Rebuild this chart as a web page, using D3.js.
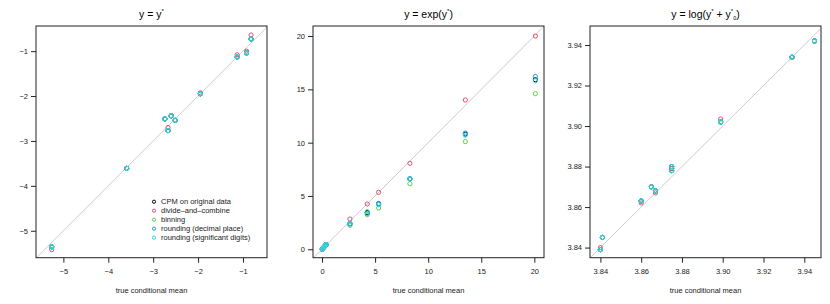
<!DOCTYPE html>
<html>
<head>
<meta charset="utf-8">
<script src="https://cdn.jsdelivr.net/npm/d3@7"></script>
<style>
  body { margin: 0; background: #fff; }
  svg { display: block; font-family: "Liberation Sans", Arial, sans-serif; }
</style>
</head>
<body>
<svg id="chart" width="830" height="304"></svg>
<script>
const METHODS = ["CPM on original data", "divide\u2013and\u2013combine", "binning", "rounding (decimal place)", "rounding (significant digits)"];
const METHOD_COLORS = ["#000000", "#DF536B", "#61D04F", "#2297E6", "#28E2E5"];

// panel 1 : y = y*
const p1True = [-5.26, -3.59, -2.74, -2.67, -2.60, -2.51, -1.95, -1.13, -0.92, -0.82];
const p1Cpm  = [-5.36, -3.61, -2.51, -2.77, -2.44, -2.54, -1.95, -1.13, -1.04, -0.73];
const p1Dac  = [-5.42, -3.61, -2.51, -2.70, -2.44, -2.54, -1.93, -1.08, -1.00, -0.64];
const p1Bin  = [-5.36, -3.61, -2.51, -2.77, -2.44, -2.54, -1.95, -1.13, -1.04, -0.73];
const p1Dec  = [-5.36, -3.61, -2.51, -2.77, -2.44, -2.54, -1.95, -1.13, -1.04, -0.73];
const p1Sig  = [-5.36, -3.61, -2.51, -2.77, -2.44, -2.54, -1.95, -1.13, -1.04, -0.73];

// panel 2 : y = exp(y*)
const p2True = [0.02, 0.14, 0.25, 0.37, 2.63, 4.26, 5.33, 8.28, 13.5, 20.1];
const p2Cpm  = [0.00, 0.16, 0.28, 0.45, 2.40, 3.45, 4.25, 6.60, 10.8, 15.9];
const p2Dac  = [0.03, 0.15, 0.27, 0.40, 2.84, 4.25, 5.34, 8.06, 14.0, 20.0];
const p2Bin  = [0.00, 0.14, 0.26, 0.38, 2.25, 3.25, 3.87, 6.15, 10.1, 14.6];
const p2Dec  = [0.00, 0.16, 0.30, 0.42, 2.37, 3.37, 4.30, 6.62, 10.9, 16.2];
const p2Sig  = [0.00, 0.17, 0.29, 0.46, 2.44, 3.53, 4.18, 6.60, 10.7, 15.8];

// panel 3 : y = log(y* + y0*)
const p3True = [3.840, 3.841, 3.860, 3.865, 3.867, 3.875, 3.875, 3.899, 3.934, 3.945];
const p3Cpm  = [3.839, 3.845, 3.863, 3.870, 3.868, 3.880, 3.878, 3.902, 3.934, 3.942];
const p3Dac  = [3.840, 3.845, 3.862, 3.870, 3.867, 3.879, 3.879, 3.9035, 3.934, 3.942];
const p3Bin  = [3.839, 3.845, 3.863, 3.870, 3.868, 3.880, 3.878, 3.902, 3.934, 3.942];
const p3Dec  = [3.839, 3.845, 3.863, 3.870, 3.868, 3.880, 3.878, 3.902, 3.934, 3.942];
const p3Sig  = [3.839, 3.845, 3.863, 3.870, 3.868, 3.880, 3.878, 3.902, 3.934, 3.942];

const p1Ticks = [-5, -4, -3, -2, -1];
const p2Ticks = [0, 5, 10, 15, 20];
const p3Ticks = [3.84, 3.86, 3.88, 3.90, 3.92, 3.94];

const X_LABEL = "true conditional mean";

const panels = [
  { x: p1True, ys: [p1Cpm, p1Dac, p1Bin, p1Dec, p1Sig], xDomain: [-5.61, -0.465], yDomain: [-5.6, -0.44], ticks: p1Ticks, fmt: d3.format("d"), legend: true },
  { x: p2True, ys: [p2Cpm, p2Dac, p2Bin, p2Dec, p2Sig], xDomain: [-0.85, 20.91], yDomain: [-0.79, 20.94], ticks: p2Ticks, fmt: d3.format("d"), legend: false },
  { x: p3True, ys: [p3Cpm, p3Dac, p3Bin, p3Dec, p3Sig], xDomain: [3.8349, 3.9482], yDomain: [3.835, 3.9494], ticks: p3Ticks, fmt: d3.format(".2f"), legend: false }
];

const PANEL_LEFT = 36, PANEL_STEP = 277, PANEL_W = 231;
const TOP = 26, BOTTOM = 257.7;

const svg = d3.select("#chart");

function drawTitle(g, i, cx) {
  const t = g.append("text")
    .attr("x", cx).attr("y", 18)
    .attr("text-anchor", "middle")
    .attr("font-size", 10.5)
    .attr("fill", "#000");
  const sup = s => t.append("tspan").attr("font-size", 6).attr("dy", -5).text(s);
  if (i === 0) {
    t.append("tspan").text("y = y");
    sup("*");
    t.append("tspan").attr("dy", 5).text("");
  } else if (i === 1) {
    t.append("tspan").text("y = exp(y");
    sup("*");
    t.append("tspan").attr("dy", 5).text(")");
  } else {
    t.append("tspan").text("y = log(y");
    sup("*");
    t.append("tspan").attr("dy", 5).text(" + y");
    sup("*");
    t.append("tspan").attr("font-size", 5.5).attr("dy", 7).text("0");
    t.append("tspan").attr("dy", -2).text(")");
  }
}

panels.forEach((p, i) => {
  const left = PANEL_LEFT + i * PANEL_STEP;
  const right = left + PANEL_W;
  const x = d3.scaleLinear().domain(p.xDomain).range([left, right]);
  const y = d3.scaleLinear().domain(p.yDomain).range([BOTTOM, TOP]);
  const g = svg.append("g");

  // diagonal reference y = x, clipped to the box
  const clipId = "clip" + i;
  g.append("clipPath").attr("id", clipId)
    .append("rect").attr("x", left).attr("y", TOP).attr("width", right - left).attr("height", BOTTOM - TOP);
  const lo = Math.min(p.xDomain[0], p.yDomain[0]), hi = Math.max(p.xDomain[1], p.yDomain[1]);
  g.append("line")
    .attr("clip-path", `url(#${clipId})`)
    .attr("x1", x(lo)).attr("y1", y(lo))
    .attr("x2", x(hi)).attr("y2", y(hi))
    .attr("stroke", "#cccccc").attr("stroke-width", 1);

  // points, one method after another
  p.ys.forEach((vals, m) => {
    g.append("g").selectAll("circle")
      .data(vals)
      .join("circle")
      .attr("cx", (d, k) => x(p.x[k]))
      .attr("cy", d => y(d))
      .attr("r", 2.1)
      .attr("fill", "none")
      .attr("stroke", METHOD_COLORS[m])
      .attr("stroke-width", 1);
  });

  // box
  g.append("rect")
    .attr("x", left).attr("y", TOP)
    .attr("width", right - left).attr("height", BOTTOM - TOP)
    .attr("fill", "none").attr("stroke", "#222").attr("stroke-width", 1);

  // axes
  const xAxis = g.append("g")
    .attr("transform", `translate(0,${BOTTOM})`)
    .call(d3.axisBottom(x).tickValues(p.ticks).tickSize(5).tickPadding(6)
      .tickFormat(d => p.fmt(d).replace("-", "\u2212")));
  const yAxis = g.append("g")
    .attr("transform", `translate(${left},0)`)
    .call(d3.axisLeft(y).tickValues(p.ticks).tickSize(5).tickPadding(3)
      .tickFormat(d => p.fmt(d).replace("-", "\u2212")));
  [xAxis, yAxis].forEach(a => {
    a.select(".domain").remove();
    a.selectAll("line").attr("stroke", "#222");
    a.selectAll("text").attr("font-size", 7.5).attr("fill", "#222")
      .attr("font-family", "Liberation Sans, Arial, sans-serif");
  });

  g.append("text")
    .attr("x", (left + right) / 2).attr("y", 293)
    .attr("text-anchor", "middle")
    .attr("font-size", 7.5).attr("fill", "#222")
    .text(X_LABEL);

  drawTitle(g, i, (left + right) / 2);

  if (p.legend) {
    const lg = g.append("g").attr("transform", "translate(154,201.7)");
    METHODS.forEach((name, m) => {
      const row = lg.append("g").attr("transform", `translate(0,${m * 9})`);
      row.append("circle").attr("r", 1.6).attr("fill", "none")
        .attr("stroke", METHOD_COLORS[m]).attr("stroke-width", 1);
      row.append("text").attr("x", 7).attr("dy", "0.33em")
        .attr("font-size", 7.5).attr("fill", "#222").text(name);
    });
  }
});
</script>
</body>
</html>
